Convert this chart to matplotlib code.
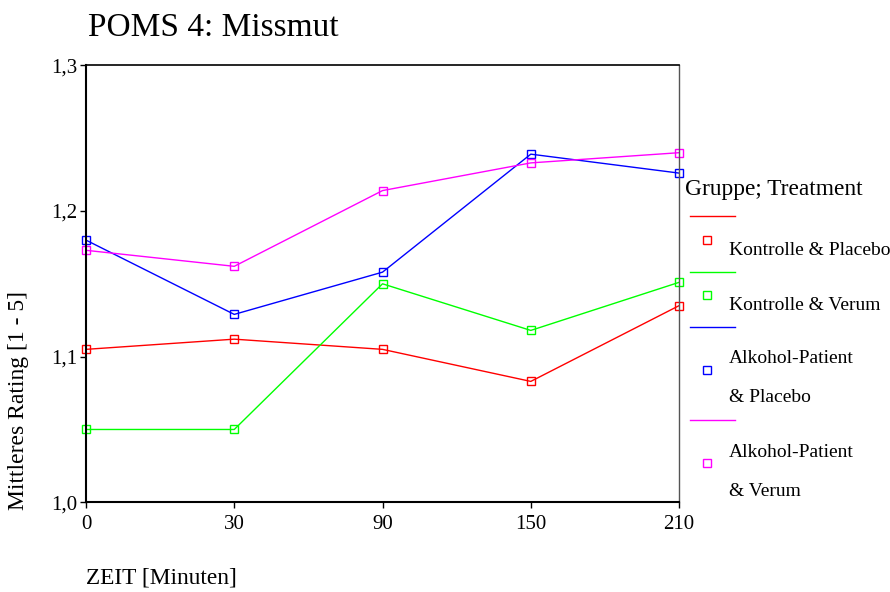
import matplotlib
matplotlib.use('Agg')
import matplotlib.pyplot as plt
from matplotlib.lines import Line2D
from matplotlib.ticker import FuncFormatter

plt.rcParams['font.family'] = ['Liberation Serif', 'DejaVu Serif']

# data
zeit = ['0', '30', '90', '150', '210']
kontrolle_placebo = [1.105, 1.112, 1.105, 1.083, 1.135]
kontrolle_verum = [1.050, 1.050, 1.150, 1.118, 1.151]
alkohol_placebo = [1.180, 1.129, 1.158, 1.239, 1.226]
alkohol_verum = [1.173, 1.162, 1.214, 1.233, 1.240]

labels = ['Kontrolle & Placebo', 'Kontrolle & Verum',
          'Alkohol-Patient\n& Placebo', 'Alkohol-Patient\n& Verum']
colors = ['#ff0000', '#00ff00', '#0000ff', '#ff00ff']
series = [kontrolle_placebo, kontrolle_verum, alkohol_placebo, alkohol_verum]

fig = plt.figure(figsize=(8.9, 5.92), dpi=100)
ax = fig.add_axes([0.0966, 0.1515, 0.6664, 0.7382])

x = list(range(len(zeit)))
for vals, c in zip(series, colors):
    ax.plot(x, vals, color=c, lw=1, marker='s', markersize=6,
            markerfacecolor='none', markeredgecolor=c, markeredgewidth=1, clip_on=False)

ax.set_xlim(0, len(zeit) - 1)
ax.set_ylim(1.0, 1.3)
ax.set_xticks(x)
ax.set_xticklabels(zeit)
ax.set_yticks([1.0, 1.1, 1.2, 1.3])
ax.yaxis.set_major_formatter(FuncFormatter(lambda v, p: ('%.1f' % v).replace('.', ',')))
ax.tick_params(direction='out', length=4, width=1, labelsize=15)
ax.tick_params(axis='y', pad=2)
ax.tick_params(axis='x', pad=5)

for s in ['left', 'bottom']:
    ax.spines[s].set_linewidth(1.5)
ax.spines['top'].set_linewidth(1.2)
ax.spines['right'].set_linewidth(1)
ax.spines['right'].set_color('#555555')

fig.text(0.099, 1 - 28 / 592, 'POMS 4: Missmut', fontsize=24, va='center', ha='left')
fig.text(19 / 890, 1 - 400 / 592, 'Mittleres Rating [1 - 5]', fontsize=17, rotation=90,
         va='center', ha='center')
fig.text(86 / 890, 1 - 578 / 592, 'ZEIT [Minuten]', fontsize=16.8, va='center', ha='left')

# legend, drawn by hand to copy the layout of the original
fig.text(0.770, 1 - 189 / 592, 'Gruppe; Treatment', fontsize=16.8, va='center', ha='left')
line_y = [216, 272, 327, 420]
mark_y = [240, 295, 370, 463]
text_y = [250, 305, 378, 472]
for ly, my, ty, lab, c in zip(line_y, mark_y, text_y, labels, colors):
    fig.add_artist(Line2D([690 / 890, 735 / 890], [1 - ly / 592, 1 - ly / 592], color=c, lw=1))
    fig.add_artist(Line2D([707 / 890], [1 - my / 592], color=c, marker='s', markersize=6,
                          markerfacecolor='none', markeredgecolor=c, markeredgewidth=1))
    fig.text(729 / 890, 1 - ty / 592, lab, fontsize=14, va='center', ha='left', linespacing=2.65)

fig.savefig('out.png', dpi=100)
